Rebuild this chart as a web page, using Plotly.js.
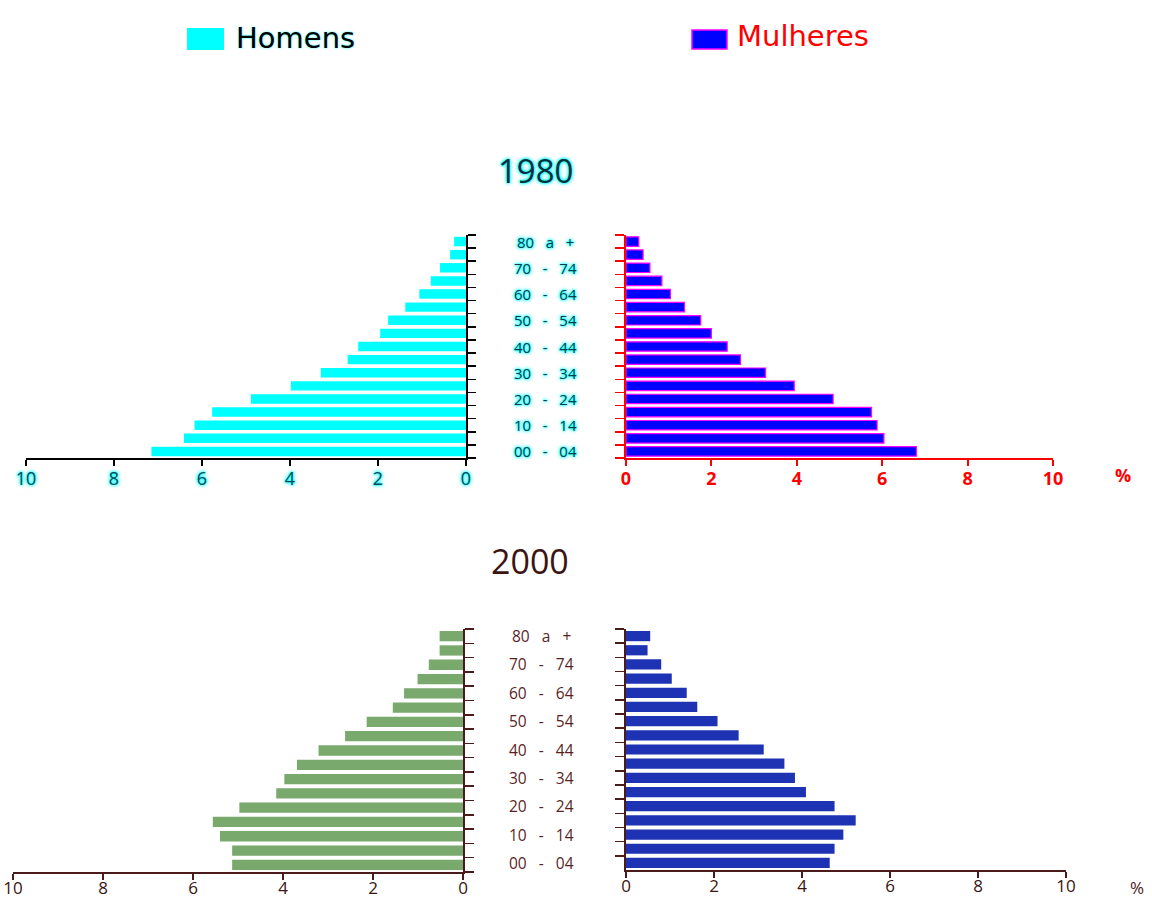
<!DOCTYPE html>
<html>
<head>
<meta charset="utf-8">
<script src="https://cdn.plot.ly/plotly-3.0.1.min.js"></script>
<style>html,body{margin:0;padding:0;background:#fff;}#chart{width:1152px;height:902px;}</style>
</head>
<body>
<div id="chart"></div>
<script>
// Age groups (bottom to top)
const ages = ["00-04","05-09","10-14","15-19","20-24","25-29","30-34","35-39","40-44","45-49","50-54","55-59","60-64","65-69","70-74","75-79","80+"];
// Labelled age groups and their text
const labelAges = ["00-04","10-14","20-24","30-34","40-44","50-54","60-64","70-74","80+"];
const labelTexts = ["00 - 04","10 - 14","20 - 24","30 - 34","40 - 44","50 - 54","60 - 64","70 - 74","80 a +"];
// Percent of population
const male1980   = [7.15,6.41,6.17,5.77,4.89,3.98,3.30,2.69,2.45,1.95,1.77,1.38,1.06,0.80,0.59,0.36,0.27];
const female1980 = [6.80,6.04,5.88,5.75,4.85,3.94,3.27,2.68,2.37,2.00,1.75,1.37,1.04,0.84,0.56,0.40,0.30];
const male2000   = [5.13,5.13,5.40,5.56,4.97,4.15,3.97,3.69,3.21,2.62,2.14,1.56,1.31,1.01,0.76,0.52,0.52];
const female2000 = [4.63,4.74,4.94,5.22,4.74,4.09,3.84,3.60,3.13,2.56,2.08,1.62,1.38,1.04,0.80,0.49,0.55];
const tickVals = [0,2,4,6,8,10];
const tickText = ["0","2","4","6","8","10"];
const years = ["1980","2000"];
const seriesNames = ["Homens","Mulheres"];

const W = 1152, H = 902;
const px = v => v / W;
const py = v => 1 - v / H;

const FONT = "Open Sans, Noto Sans, sans-serif";
const LEGFONT = "DejaVu Sans, Verdana, sans-serif";
const cyanGlow = "0 0 2px #00ffff, 0 0 3px #00ffff, 0 0 4px #00ffff";
const brown = "#4b1a1a";

const traces = [
  {type:"bar", orientation:"h", y:ages, x:male1980, xaxis:"x", yaxis:"y", name:seriesNames[0],
   marker:{color:"#00ffff", line:{width:0}}, showlegend:false, hoverinfo:"x+y"},
  {type:"bar", orientation:"h", y:ages, x:female1980, xaxis:"x2", yaxis:"y2", name:seriesNames[1],
   marker:{color:"#0000ff", line:{color:"#ff00ff", width:1.2}}, showlegend:false, hoverinfo:"x+y"},
  {type:"bar", orientation:"h", y:ages, x:male2000, xaxis:"x3", yaxis:"y3", name:seriesNames[0],
   marker:{color:"#79a96d", line:{width:0}}, showlegend:false, hoverinfo:"x+y"},
  {type:"bar", orientation:"h", y:ages, x:female2000, xaxis:"x4", yaxis:"y4", name:seriesNames[1],
   marker:{color:"#1d33b3", line:{width:0}}, showlegend:false, hoverinfo:"x+y"}
];

function xAx(domain, range, anchor, color, font, width, standoff){
  return {domain:domain, range:range, anchor:anchor, tickmode:"array", tickvals:tickVals, ticktext:tickText,
    ticks:"outside", ticklen:6, tickwidth:2, tickcolor:color, showline:true, linecolor:color, linewidth:width,
    showgrid:false, zeroline:false, tickfont:font, fixedrange:true, ticklabelstandoff:standoff};
}
function yAx(domain, anchor, side, color, ticklen, width){
  return {domain:domain, anchor:anchor, side:side, type:"category", categoryorder:"array", categoryarray:ages,
    range:[-0.5,16.5], tickmode:"array", tickvals:ages, ticktext:ages.map(()=>""),
    tickson:"boundaries", ticks:"outside", ticklen:ticklen, tickwidth:1.5, tickcolor:color,
    showline:true, linecolor:color, linewidth:width, showgrid:false, zeroline:false, showticklabels:false, fixedrange:true};
}

const dom1980 = [py(458), py(235)];
const dom2000m = [py(872), py(629)];
const dom2000f = [py(870), py(629)];

const annotations = [];
// Titles
annotations.push({text:years[0], xref:"paper", yref:"paper", x:px(535), y:py(170), showarrow:false,
  font:{family:FONT, size:33, color:"#0a2e3a", shadow:cyanGlow}, xanchor:"center", yanchor:"middle"});
annotations.push({text:years[1], xref:"paper", yref:"paper", x:px(530), y:py(561), showarrow:false,
  font:{family:FONT, size:34, color:"#3a1512"}, xanchor:"center", yanchor:"middle"});
// Age labels
labelAges.forEach((a,i)=>{
  const t = labelTexts[i].replace(/ /g,"\u00a0\u00a0\u00a0");
  annotations.push({text:t, xref:"paper", yref:"y", x:px(545), y:a, showarrow:false,
    font:{family:FONT, size:15, color:"#0b3f4c", shadow:cyanGlow}, xanchor:"center", yanchor:"middle"});
  annotations.push({text:t, xref:"paper", yref:"y4", x:px(541), y:a, showarrow:false,
    font:{family:FONT, size:15.5, color:"#5a1f1f"}, xanchor:"center", yanchor:"middle"});
});
// Percent signs
annotations.push({text:"%", xref:"paper", yref:"paper", x:px(1123), y:py(475), showarrow:false,
  font:{family:FONT, size:18, color:"#ff0000", weight:"bold"}, xanchor:"center", yanchor:"middle"});
annotations.push({text:"%", xref:"paper", yref:"paper", x:px(1137), y:py(887), showarrow:false,
  font:{family:FONT, size:17, color:brown}, xanchor:"center", yanchor:"middle"});
// Legend text
annotations.push({text:seriesNames[0], xref:"paper", yref:"paper", x:px(234), y:py(38), showarrow:false,
  font:{family:LEGFONT, size:29, color:"#000000", shadow:"0 0 2px #00ffff"}, xanchor:"left", yanchor:"middle"});
annotations.push({text:seriesNames[1], xref:"paper", yref:"paper", x:px(735), y:py(36), showarrow:false,
  font:{family:LEGFONT, size:29, color:"#ff0000"}, xanchor:"left", yanchor:"middle"});

const shapes = [
  {type:"rect", xref:"paper", yref:"paper", x0:px(187), x1:px(224), y0:py(50), y1:py(28),
   fillcolor:"#00ffff", line:{width:0}},
  {type:"rect", xref:"paper", yref:"paper", x0:px(692), x1:px(727), y0:py(49), y1:py(30),
   fillcolor:"#0000ff", line:{color:"#ff00ff", width:1.5}}
];

const layout = {
  width:W, height:H, margin:{l:0,r:0,t:0,b:0,pad:0},
  paper_bgcolor:"#ffffff", plot_bgcolor:"rgba(0,0,0,0)",
  showlegend:false, bargap:0.28,
  font:{family:FONT},
  xaxis: xAx([px(26),px(466)], [10,0], "y", "#000000",
    {family:FONT, size:18, color:"#0b4a57", shadow:cyanGlow}, 2, -3),
  yaxis: yAx(dom1980, "x", "right", "#000000", 8, 2),
  xaxis2: xAx([px(626),px(1053)], [0,10], "y2", "#ff0000",
    {family:FONT, size:18, color:"#ff0000", weight:"bold"}, 2, -3),
  yaxis2: yAx(dom1980, "x2", "left", "#ff0000", 9, 2.5),
  xaxis3: xAx([px(13),px(463)], [10,0], "y3", brown,
    {family:FONT, size:17, color:"#3a1512"}, 2, -6),
  yaxis3: yAx(dom2000m, "x3", "right", brown, 9, 2),
  xaxis4: xAx([px(626),px(1066)], [0,10], "y4", brown,
    {family:FONT, size:17, color:"#3a1512"}, 2, -6),
  yaxis4: yAx(dom2000f, "x4", "left", brown, 9, 2),
  annotations: annotations,
  shapes: shapes
};

Plotly.newPlot("chart", traces, layout, {displayModeBar:false, staticPlot:true});
</script>
</body>
</html>
